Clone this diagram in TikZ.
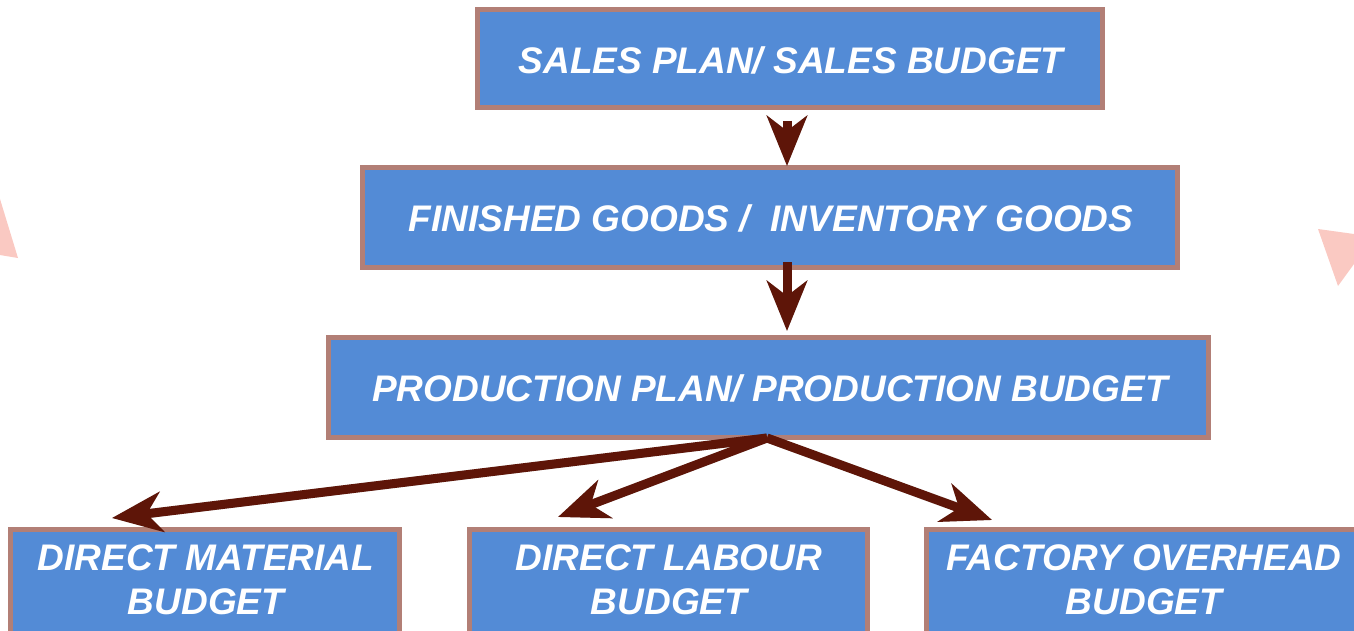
\documentclass[tikz,border=0pt]{standalone}
\usepackage{fontspec}
\setmainfont{Liberation Sans}
\usetikzlibrary{arrows.meta,calc}
\definecolor{boxfill}{HTML}{538BD6}
\definecolor{boxedge}{HTML}{B27F76}
\definecolor{arrowcol}{HTML}{5E1508}
\definecolor{pinkmark}{HTML}{FAC9C2}
\tikzset{
  budgetbox/.style={draw=boxedge, line width=5pt, fill=boxfill, rectangle, inner sep=0pt},
  boxtext/.style={text=white, font=\fontsize{37}{44}\selectfont\bfseries\itshape, align=center, inner sep=0pt},
  flowarrow/.style={draw=arrowcol, line width=9pt,
    -{Stealth[length=50pt, width=40pt, inset=15pt, fill=arrowcol]}},
  flowshadow/.style={draw=black, opacity=0.18, line width=9pt,
    -{Stealth[length=50pt, width=40pt, inset=15pt, fill=black]}},
}
\begin{document}
\begin{tikzpicture}[x=1pt,y=-1pt]
\useasboundingbox (0,0) rectangle (1354,631);
\clip (0,0) rectangle (1354,631);

% faint decorative marks at the page edges
\fill[pinkmark] (0,199) -- (18,258) -- (0,255) -- cycle;
\fill[pinkmark] (1318,229) -- (1354,234) -- (1354,264) -- (1338,286) -- cycle;

% top chain of budgets
\node[budgetbox, minimum width=625pt, minimum height=98pt] (sales) at (790,58.5) {};
\node[boxtext] (salestext) at (791,60) {SALES PLAN/ SALES BUDGET};

\node[budgetbox, minimum width=815pt, minimum height=100pt] (finished) at (770,217.5) {};
\node[boxtext] (finishedtext) at (771,218) {FINISHED GOODS /\ \ INVENTORY GOODS};

\node[budgetbox, minimum width=880pt, minimum height=100pt] (production) at (768.5,387.5) {};
\node[boxtext] (productiontext) at (770,388) {PRODUCTION PLAN/ PRODUCTION BUDGET};

% bottom row (runs past the lower edge)
\node[budgetbox, minimum width=389pt, minimum height=160pt] (material) at (205,609.5) {};
\node[boxtext] (materialtext) at (206,580) {DIRECT MATERIAL\\BUDGET};

\node[budgetbox, minimum width=398pt, minimum height=160pt] (labour) at (668.5,609.5) {};
\node[boxtext] (labourtext) at (669,580) {DIRECT LABOUR\\BUDGET};

\node[budgetbox, minimum width=460pt, minimum height=160pt] (overhead) at (1156.5,609.5) {};
\node[boxtext] (overheadtext) at (1144,580) {FACTORY OVERHEAD\\BUDGET};

% arrow end points just above the bottom row
\coordinate (tomaterial) at (112,518);
\coordinate (tolabour) at (558,517);
\coordinate (tooverhead) at (992,520);
\coordinate (fork) at (767,438);

% soft shadows under the arrows
\begin{scope}[shift={(2,3)}]
\draw[flowshadow] ([xshift=-3pt,yshift=-11pt]sales.south) -- ([xshift=17pt,yshift=-1pt]finished.north);
\draw[flowshadow] ([xshift=17pt,yshift=8pt]finished.south) -- ([xshift=18.5pt,yshift=4pt]production.north);
\draw[flowshadow] (fork) -- (tomaterial);
\draw[flowshadow] (fork) -- (tolabour);
\draw[flowshadow] (fork) -- (tooverhead);
\end{scope}

% flow arrows
\draw[flowarrow] ([xshift=-3pt,yshift=-11pt]sales.south) -- ([xshift=17pt,yshift=-1pt]finished.north);
\draw[flowarrow] ([xshift=17pt,yshift=8pt]finished.south) -- ([xshift=18.5pt,yshift=4pt]production.north);
\draw[flowarrow] (fork) -- (tomaterial);
\draw[flowarrow] (fork) -- (tolabour);
\draw[flowarrow] (fork) -- (tooverhead);
\end{tikzpicture}
\end{document}
